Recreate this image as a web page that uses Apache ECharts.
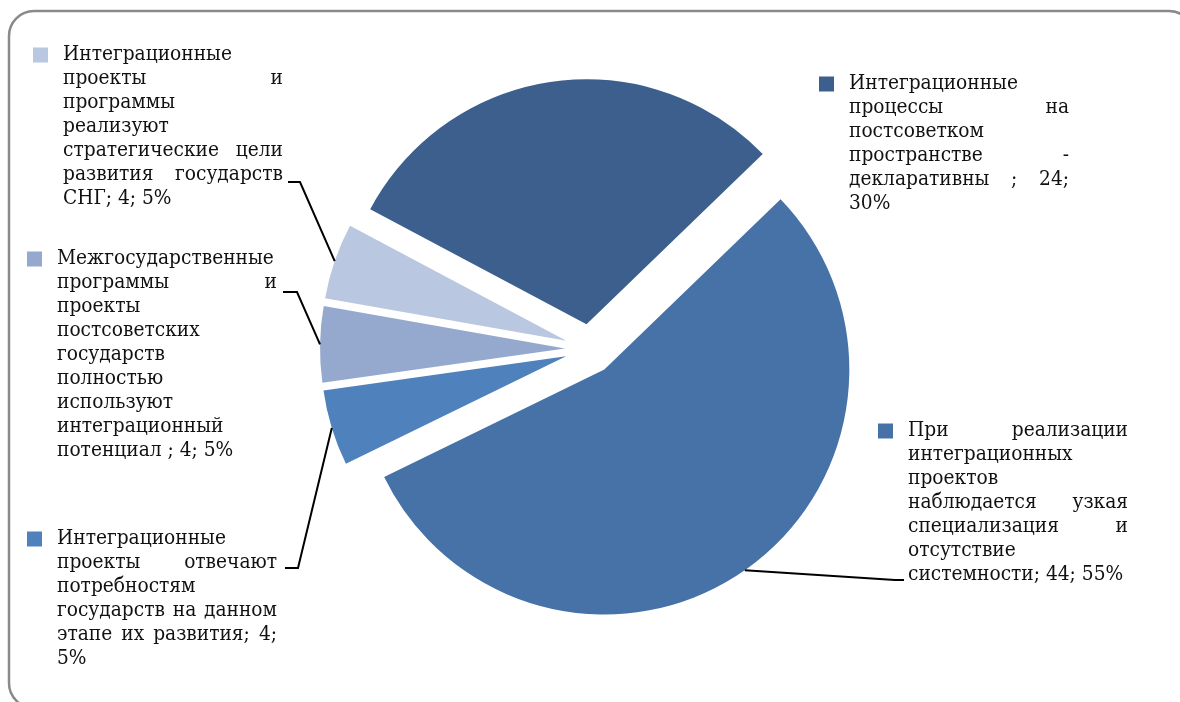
<!DOCTYPE html>
<html><head><meta charset="utf-8">
<script src="https://cdn.jsdelivr.net/npm/echarts@6/dist/echarts.min.js"></script>
<style>html,body{margin:0;padding:0;background:#fff;}#c{width:1180px;height:702px;}</style>
</head><body><div id="c"></div>
<script>
// ---- data ----
const categories = [
  "Интеграционные процессы на постсоветком пространстве - декларативны ",
  "При реализации интеграционных проектов наблюдается узкая специализация и отсутствие системности",
  "Интеграционные проекты отвечают потребностям государств на данном этапе их развития",
  "Межгосударственные программы и проекты постсоветских государств полностью используют интеграционный потенциал ",
  "Интеграционные проекты и программы реализуют стратегические цели развития государств СНГ"
];
const values = [24, 44, 4, 4, 4];
const colors = ['#3C5F8D', '#4672A8', '#4F81BD', '#95A9CF', '#B9C7E1'];

// ---- layout / style ----
const CX = 590, CY = 349, R = 245, OFF = 25, START = 152;
const W = 220;
// words per wrapped line of each label (as in the reference)
const lineWords = [[1,2,1,2,3,1],[2,1,1,2,2,1,3],[1,2,1,3,4,1],[1,2,1,1,1,1,1,1,4],[1,2,1,1,2,2,3]];
const labelPos = [[819, 72], [878, 419], [27, 527], [27, 247], [33, 43]];
const lineEnds = [null, [[895, 580], [904, 580]], [[298, 568], [285, 568]], [[297, 292], [283, 292]], [[300, 182], [288, 182]]];

const cv = document.createElement('canvas').getContext('2d');
function fontAvailable(name) {
  const s = 'Межгосударственные abc 123';
  cv.font = '100px monospace'; const a = cv.measureText(s).width;
  cv.font = '100px "' + name + '", monospace'; const b = cv.measureText(s).width;
  return Math.abs(a - b) > 0.5;
}
const fontFamily = fontAvailable('DejaVu Serif Condensed') ? '"DejaVu Serif Condensed", "DejaVu Serif", serif' : '"DejaVu Serif", serif';
function mw(t, size) { cv.font = size + 'px ' + fontFamily; return cv.measureText(t).width; }
const fontSize = Math.round(100 * 217 / mw('Межгосударственные', 100) * 10) / 10;
const total = values.reduce((a, b) => a + b, 0);

function wrap(text, counts) {
  const words = text.split(' ').filter(w => w.length);
  const lines = []; let p = 0;
  for (const c of counts) { if (p < words.length) lines.push(words.slice(p, p + c)); p += c; }
  if (p < words.length) lines.push(words.slice(p));
  return lines;
}
function buildLabel(i) {
  const pct = Math.round(values[i] / total * 100);
  const text = categories[i] + '; ' + values[i] + '; ' + pct + '%';
  const lines = wrap(text, lineWords[i]);
  const rich = {
    sq: { width: 15, height: 15, backgroundColor: colors[i], verticalAlign: 'middle' },
    sg: { width: 15 }, ind: { width: 30 }, t: {}
  };
  let g = 0;
  const out = lines.map((ws, li) => {
    let s = li === 0 ? '{sq| }{sg| }' : '{ind| }';
    const last = li === lines.length - 1;
    if (!last && ws.length > 1) {
      const sum = ws.reduce((a, w) => a + mw(w, fontSize), 0);
      const gap = (W - sum) / (ws.length - 1);
      const key = 'g' + (g++);
      rich[key] = { width: gap };
      s += ws.map(w => '{t|' + w + '}').join('{' + key + '| }');
    } else {
      s += '{t|' + ws.join(' ') + '}';
    }
    return s;
  });
  return { text: out.join('\n'), rich };
}

function midAngle(i) {
  let cum = 0; for (let k = 0; k < i; k++) cum += values[k];
  return (START - (cum + values[i] / 2) / total * 360) * Math.PI / 180;
}

const sliceData = values.map((v, i) => ({
  name: categories[i], value: v, selected: true, itemStyle: { color: colors[i] }
}));
const labelData = values.map((v, i) => {
  const lb = buildLabel(i);
  return {
    name: categories[i], value: v,
    label: { formatter: lb.text, rich: lb.rich },
    labelLine: { show: i !== 0 }
  };
});

const chart = echarts.init(document.getElementById('c'), null, { renderer: 'canvas' });
chart.setOption({
  animation: false,
  backgroundColor: '#ffffff',
  graphic: [{
    type: 'rect', z: -10, silent: true,
    shape: { x: 9, y: 11, width: 1185, height: 697, r: 25 },
    style: { fill: 'none', stroke: '#8a8a8a', lineWidth: 2.5 }
  }],
  series: [{
    type: 'pie',
    center: [CX, CY], radius: R,
    startAngle: START, clockwise: true,
    selectedMode: 'multiple', selectedOffset: OFF,
    silent: true,
    emphasis: { disabled: true, scale: false },
    itemStyle: { borderWidth: 0 },
    label: { show: false }, labelLine: { show: false },
    data: sliceData
  }, {
    type: 'pie', z: 3,
    center: [CX, CY], radius: R,
    startAngle: START, clockwise: true,
    selectedMode: false,
    avoidLabelOverlap: false,
    silent: true,
    emphasis: { disabled: true, scale: false },
    itemStyle: { color: 'rgba(0,0,0,0)', borderWidth: 0 },
    label: {
      show: true, position: 'outside', width: 260, overflow: 'none',
      fontFamily: fontFamily, fontSize: fontSize, lineHeight: 24, color: '#111',
      align: 'left'
    },
    labelLine: { show: true, lineStyle: { color: '#000', width: 2 } },
    labelLayout: function (p) {
      const i = p.dataIndex;
      const res = { x: labelPos[i][0], y: labelPos[i][1], align: 'left', verticalAlign: 'top' };
      if (lineEnds[i]) {
        const a = midAngle(i);
        const st = [CX + Math.cos(a) * (R + OFF), CY - Math.sin(a) * (R + OFF)];
        res.labelLinePoints = [st, lineEnds[i][0], lineEnds[i][1]];
      }
      return res;
    },
    data: labelData
  }]
});
</script>
</body></html>
